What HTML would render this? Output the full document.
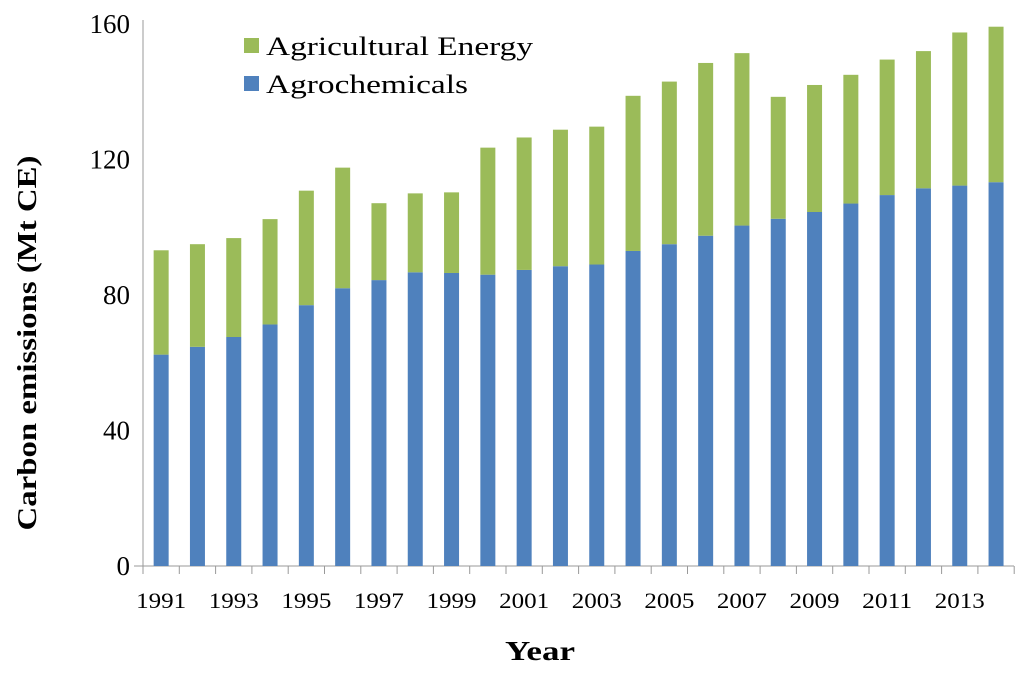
<!DOCTYPE html>
<html><head><meta charset="utf-8"><style>
body{margin:0;background:#fff;width:1024px;height:670px;overflow:hidden}
svg text{font-family:"Liberation Serif",serif;fill:#000}
</style></head><body>
<svg id="chart" width="1024" height="670">
<line x1="143" y1="20" x2="143" y2="566" stroke="#999"/>
<line x1="134" y1="566" x2="1014" y2="566" stroke="#999"/>
<g id="ticks"></g><g id="bars"></g>
<text x="36" y="343" font-size="27" font-weight="bold" text-anchor="middle" textLength="375" lengthAdjust="spacingAndGlyphs" transform="rotate(-90 36 343)">Carbon  emissions  (Mt CE)</text>
<text x="540" y="660" font-size="27" font-weight="bold" text-anchor="middle" textLength="70" lengthAdjust="spacingAndGlyphs">Year</text>
<g>
<rect x="244" y="38" width="15" height="15" fill="#9bbb59"/>
<text x="266" y="55" font-size="26" textLength="267" lengthAdjust="spacingAndGlyphs">Agricultural Energy</text>
<rect x="244" y="76" width="15" height="15" fill="#4f81bd"/>
<text x="266" y="93" font-size="26" textLength="202" lengthAdjust="spacingAndGlyphs">Agrochemicals</text>
</g>
</svg>
<script>
const years=[1991,1992,1993,1994,1995,1996,1997,1998,1999,2000,2001,2002,2003,2004,2005,2006,2007,2008,2009,2010,2011,2012,2013,2014];
const agrochem=[62.4,64.7,67.6,71.3,77,82,84.4,86.7,86.5,86,87.4,88.5,89,93,95,97.5,100.5,102.5,104.5,107,109.5,111.5,112.3,113.3];
const total=[93.2,95,96.8,102.4,110.8,117.6,107.1,110,110.3,123.5,126.5,128.8,129.7,138.8,143,148.5,151.4,138.5,142,145,149.5,152,157.5,159.2];
const yTicks=[0,40,80,120,160];
const ns="http://www.w3.org/2000/svg";
const x0=143,step=36.3,bw=15;
const y=v=>566-v*542/160;
const xc=i=>x0+step*(i+0.5);
const tg=document.getElementById('ticks'),bg=document.getElementById('bars');
function mk(tag,a,p){const e=document.createElementNS(ns,tag);for(const k in a)e.setAttribute(k,a[k]);p.appendChild(e);return e;}
yTicks.forEach(v=>{
const t=mk('text',{x:130,y:y(v)+9,'font-size':27,'text-anchor':'end'},tg);t.textContent=v;


});
for(let i=0;i<=years.length;i++){
const l=mk('line',{x1:x0+step*i,x2:x0+step*i,y1:566,y2:574,stroke:'#999'},tg);


}
years.forEach((yr,i)=>{
if(i%2==0){const t=mk('text',{x:xc(i),y:608,'font-size':22,'text-anchor':'middle',textLength:50,lengthAdjust:'spacingAndGlyphs'},tg);t.textContent=yr;

}
const b=mk('rect',{x:xc(i)-bw/2,y:y(agrochem[i]),width:bw,height:566-y(agrochem[i]),fill:'#4f81bd'},bg);


const g=mk('rect',{x:xc(i)-bw/2,y:y(total[i]),width:bw,height:y(agrochem[i])-y(total[i]),fill:'#9bbb59'},bg);


});
</script>
</body></html>
